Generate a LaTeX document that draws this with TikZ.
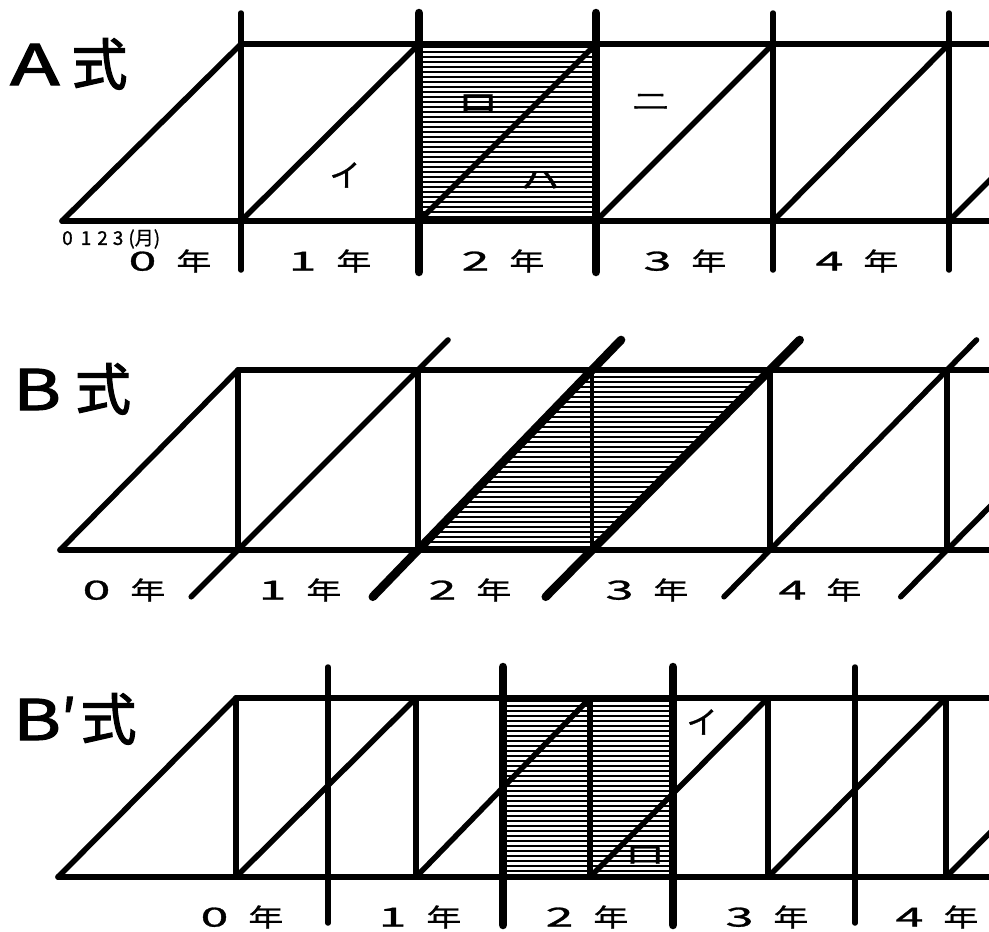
\documentclass[tikz,border=0pt]{standalone}
\usepackage{fontspec}
\setmainfont{Noto Sans CJK JP}
\newfontfamily\boldcjk{Noto Sans CJK JP}[FakeBold=2]
\newfontfamily\midcjk{Noto Sans CJK JP}[FakeBold=1]
\usepackage{graphicx}
\usetikzlibrary{calc}
\newcommand{\nen}[1]{\scalebox{2.0}[1.05]{#1}\hspace{20pt}\scalebox{1.4}[1]{年}}
\newcommand{\flatkana}[1]{\scalebox{1.3}[0.8]{#1}}

\begin{document}
\begin{tikzpicture}[x=1pt, y=-1pt,
        line/.style={line width=5.5pt, line cap=round, line join=round},
        heavy/.style={line width=8.5pt, line cap=round},
        hatch/.style={line width=1.1pt},
        year/.style={font=\midcjk\fontsize{25}{27}\selectfont, inner sep=0pt},
        kana/.style={font=\midcjk\fontsize{31}{33}\selectfont, inner sep=0pt},
        title/.style={font=\boldcjk\fontsize{56}{60}\selectfont, inner sep=0pt, anchor=base west}]
                \useasboundingbox (0,0) rectangle (989,932);

                \begin{scope}
                    \clip (419,44) rectangle (596,221);
                    \foreach \y in {47,52,...,221}
                        \draw[hatch] (419,\y) -- (596,\y);
                \end{scope}
                \draw[line] (241,44) -- (995,44);
                \draw[line] (62,221) -- (995,221);
                \foreach \x in {241,773,949}
                    \draw[line] (\x,13) -- (\x,270);
                \foreach \x in {419,596}
                    \draw[heavy] (\x,13) -- (\x,272);
                \draw[line] (62,221) -- (241,44);
                \foreach \a/\b in {241/419,419/596,596/773,773/949,949/1126}
                    \draw[line] (\a,221) -- (\b,44);
                \node[title] (titleA) at (10,85) {\scalebox{1.45}[1]{A}\hspace{12pt}式};
                \node[font=\midcjk\fontsize{19}{20}\selectfont, inner sep=0pt, anchor=west] (monthsA) at (62,239) {0\hspace{8pt}1\hspace{6pt}2\hspace{5pt}3\hspace{5pt}(月)};
                \foreach \n/\x in {0/170,1/330,2/503,3/685,4/857}
                    \node[year] (yearA\n) at (\x,261) {\nen{\n}};
                \node[kana] (iA) at (345,175) {イ};
                \node[kana] (roA) at (478,103) {\flatkana{ロ}};
                \node[kana] (haA) at (540,180) {\flatkana{ハ}};
                \node[kana] (niA) at (651,102) {\flatkana{ニ}};

                \begin{scope}
                    \clip (418,550) -- (592,550) -- (770,370) -- (592,370) -- cycle;
                    \foreach \y in {372,377,...,550}
                        \draw[hatch] (418,\y) -- (770,\y);
                \end{scope}
                \draw[line] (238,370) -- (995,370);
                \draw[line] (60,550) -- (995,550);
                \foreach \x in {238,418,770,947}
                    \draw[line] (\x,370) -- (\x,550);
                \draw[line width=3.5pt] (592,370) -- (592,550);
                \draw[line] (60,550) -- (238,370);
                \foreach \a/\b in {238/418,770/947,947/1125}
                    \draw[line] ($(\a,550)!-0.26!(\b,370)$) -- ($(\a,550)!1.167!(\b,370)$);
                \foreach \a/\b in {418/592,592/770}
                    \draw[heavy] ($(\a,550)!-0.26!(\b,370)$) -- ($(\a,550)!1.167!(\b,370)$);
                \node[title] (titleB) at (13,410) {\scalebox{1.3}[1]{B}\hspace{14pt}式};
                \foreach \n/\x in {0/124,1/300,2/470,3/647,4/820}
                    \node[year] (yearB\n) at (\x,590) {\nen{\n}};

                \begin{scope}
                    \clip (503,698) rectangle (673,877);
                    \foreach \y in {701,706,...,877}
                        \draw[hatch] (503,\y) -- (673,\y);
                \end{scope}
                \draw[line] (236,698) -- (995,698);
                \draw[line] (58,877) -- (995,877);
                \foreach \x in {236,416,590,768,946}
                    \draw[line] (\x,698) -- (\x,877);
                \foreach \x in {328,855}
                    \draw[line] (\x,667) -- (\x,923);
                \foreach \x in {503,673}
                    \draw[heavy] (\x,667) -- (\x,925);
                \draw[line] (58,877) -- (236,698);
                \foreach \a/\b in {236/416,416/590,590/768,768/946,946/1124}
                    \draw[line] (\a,877) -- (\b,698);
                \node[title] (titleBp) at (13,740) {\scalebox{1.3}[1]{B}′\hspace{4pt}式};
                \foreach \n/\x in {0/242,1/420,2/587,3/767,4/937}
                    \node[year] (yearC\n) at (\x,917) {\nen{\n}};
                \node[kana] (iC) at (702,722) {イ};
                \node[kana] (roC) at (645,855) {\flatkana{ロ}};
            \end{tikzpicture}
\end{document}
